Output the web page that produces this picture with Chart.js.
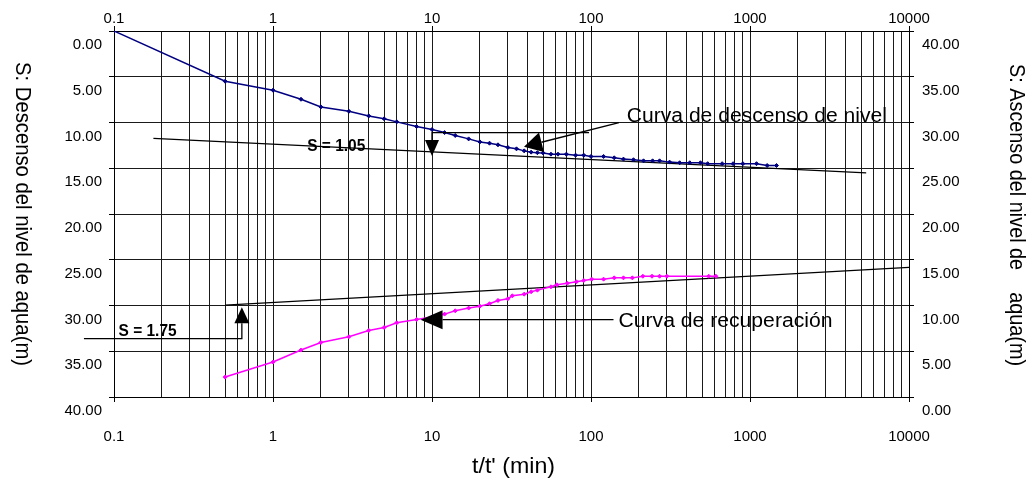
<!DOCTYPE html>
<html>
<head>
<meta charset="utf-8">
<script src="https://cdn.jsdelivr.net/npm/chart.js@4.4.1/dist/chart.umd.min.js"></script>
<style>
  html, body { margin: 0; padding: 0; background: #fff; }
  #wrap { width: 1034px; height: 485px; position: relative; }
</style>
</head>
<body>
<div id="wrap"><canvas id="chart"></canvas></div>
<script>
// drawdown curve, read on the left (reversed) axis
const descT = [0.1, 0.5, 1, 1.5, 2, 3, 4, 5, 6, 8,
  10, 12, 14, 17, 20, 23, 26, 30, 34, 38,
  42, 46, 50, 56, 62, 70, 80, 90, 100, 120,
  140, 160, 185, 214, 244, 270, 312, 361, 418, 488,
  542, 668, 783, 902, 1099, 1282, 1468];
const descS = [0, 5.49, 6.47, 7.46, 8.3, 8.77, 9.28, 9.6, 9.93, 10.44,
  10.77, 11.1, 11.42, 11.79, 12.12, 12.26, 12.44, 12.73, 12.88, 13.1,
  13.24, 13.3, 13.33, 13.46, 13.46, 13.46, 13.57, 13.57, 13.71, 13.71,
  13.86, 14.0, 14.07, 14.19, 14.19, 14.19, 14.33, 14.4, 14.4, 14.4,
  14.5, 14.5, 14.5, 14.5, 14.5, 14.7, 14.7];

// recovery curve, read on the right axis
const recT = [0.5, 1, 1.5, 2, 3, 4, 5, 6, 8, 10,
  12, 14, 17, 20, 23, 26, 30, 32, 38, 42,
  46, 56, 61, 71, 81, 90, 101, 120, 140, 160,
  182, 212, 242, 270, 300, 550, 610];
const recR = [2.18, 3.82, 5.13, 5.96, 6.58, 7.27, 7.6, 8.11, 8.47, 8.75,
  9.06, 9.42, 9.72, 9.93, 10.19, 10.55, 10.73, 11.06, 11.24, 11.5,
  11.68, 12.04, 12.26, 12.44, 12.59, 12.73, 12.88, 12.88, 13.02, 13.02,
  13.02, 13.2, 13.2, 13.2, 13.2, 13.2, 13.2];

// straight-line fits
const descFitT = [0.177, 5379];
const descFitS = [11.73, 15.5];
const recFitT = [0.5, 10000];
const recFitR = [10.05, 14.17];

// axis ticks
const xMajor = [0.1, 1, 10, 100, 1000, 10000];
const xLabels = ['0.1', '1', '10', '100', '1000', '10000'];
const yStep = 5;

const FONT = '"Liberation Sans", Arial, sans-serif';
const GRID = '#1a1a1a';

// every 1..9 line of each decade
const xGrid = [];
xMajor.slice(0, -1).forEach(d => {
  for (let m = 1; m <= 9; m++) xGrid.push(+(m * d).toPrecision(6));
});
xGrid.push(xMajor[xMajor.length - 1]);

const majorIndex = v => xMajor.findIndex(m => Math.abs(m - v) < m * 1e-6);
const toXY = (xs, ys) => xs.map((x, i) => ({ x, y: ys[i] }));

function xAxis(position, height, padding, onArea) {
  return {
    type: 'logarithmic',
    position,
    min: 0.1,
    max: 10000,
    afterBuildTicks: s => { s.ticks = xGrid.map(v => ({ value: v })); },
    afterFit: s => { s.height = height; },
    ticks: {
      autoSkip: false,
      maxRotation: 0,
      padding,
      color: '#000',
      font: { family: FONT, size: 15 },
      callback: v => { const i = majorIndex(v); return i >= 0 ? xLabels[i] : ''; }
    },
    grid: {
      drawOnChartArea: onArea,
      color: GRID,
      lineWidth: 1,
      tickLength: 5,
      tickColor: c => (c.tick && majorIndex(c.tick.value) >= 0) ? '#000' : 'rgba(0,0,0,0)'
    },
    border: { color: '#000', width: 1 }
  };
}

function yAxis(position, width, reverse, onArea, padding) {
  return {
    type: 'linear',
    position,
    reverse,
    min: 0,
    max: 40,
    afterFit: s => { s.width = width; },
    ticks: {
      stepSize: yStep,
      padding,
      labelOffset: 14,
      color: '#000',
      font: { family: FONT, size: 15 },
      callback: v => v.toFixed(2)
    },
    grid: { drawOnChartArea: onArea, color: GRID, lineWidth: 1, tickLength: 5, tickColor: '#000' },
    border: { color: '#000', width: 1 }
  };
}

// text squeezed or stretched to a given run length
function fitText(ctx, text, x, y, len, font, align, rot) {
  ctx.save();
  ctx.font = font;
  ctx.translate(x, y);
  if (rot) ctx.rotate(rot);
  const w = ctx.measureText(text).width;
  ctx.scale(len / w, 1);
  ctx.textAlign = align;
  ctx.textBaseline = 'middle';
  ctx.fillStyle = '#000';
  ctx.fillText(text, 0, 0);
  ctx.restore();
}

// polyline ending in a filled arrow head at the last point
function arrow(ctx, pts, headLen, headHalf) {
  const n = pts.length;
  const [tx, ty] = pts[n - 1];
  const [px, py] = pts[n - 2];
  const a = Math.atan2(ty - py, tx - px);
  const bx = tx - headLen * Math.cos(a), by = ty - headLen * Math.sin(a);
  ctx.save();
  ctx.strokeStyle = '#000';
  ctx.fillStyle = '#000';
  ctx.lineWidth = 1.3;
  ctx.beginPath();
  ctx.moveTo(pts[0][0], pts[0][1]);
  for (let i = 1; i < n - 1; i++) ctx.lineTo(pts[i][0], pts[i][1]);
  ctx.lineTo(bx, by);
  ctx.stroke();
  ctx.beginPath();
  ctx.moveTo(tx, ty);
  ctx.lineTo(bx + headHalf * Math.sin(a), by - headHalf * Math.cos(a));
  ctx.lineTo(bx - headHalf * Math.sin(a), by + headHalf * Math.cos(a));
  ctx.closePath();
  ctx.fill();
  ctx.restore();
}

const notes = {
  id: 'notes',
  afterDraw(chart) {
    const { ctx, chartArea: area, scales } = chart;
    const X = t => scales.x.getPixelForValue(t);
    const L = s => scales.yL.getPixelForValue(s);
    const R = r => scales.yR.getPixelForValue(r);
    const big = '20px ' + FONT;
    const bold = 'bold 16px ' + FONT;

    // drawdown callouts
    fitText(ctx, 'Curva de descenso de nivel', X(168), L(9.29), 260, big, 'left');
    arrow(ctx, [[X(150), L(10.02)], [X(37.9), L(12.64)]], 18, 10);
    fitText(ctx, 'S = 1.05', X(2.5), L(12.64), 58, bold, 'center');
    arrow(ctx, [[X(97.2), L(11.11)], [X(10), L(11.11)], [X(10), L(13.66)]], 16, 7);

    // recovery callouts
    fitText(ctx, 'Curva de recuperación', X(148.9), R(8.23), 214, big, 'left');
    arrow(ctx, [[X(138.5), R(8.45)], [X(8.47), R(8.45)]], 22, 9.5);
    fitText(ctx, 'S = 1.75', X(0.1626), L(32.86), 58, bold, 'center');
    arrow(ctx, [[X(0.0647), L(33.63)], [X(0.637), L(33.63)], [X(0.637), L(30.2)]], 16, 7.5);

    // axis titles
    const midY = (area.top + area.bottom) / 2;
    fitText(ctx, 'S: Descenso del nivel de aqua(m)', 22, midY, 304, '22px ' + FONT, 'center', Math.PI / 2);
    fitText(ctx, 'S: Ascenso del nivel de    aqua(m)', 1016, midY + 1, 302, '22px ' + FONT, 'center', Math.PI / 2);
    fitText(ctx, "t/t' (min)", (area.left + area.right) / 2 + 2, 467, 83, '22px ' + FONT, 'center');
  }
};

new Chart(document.getElementById('chart'), {
  type: 'line',
  data: {
    datasets: [
      {
        data: toXY(descT, descS),
        yAxisID: 'yL',
        borderColor: '#000080',
        backgroundColor: '#000080',
        borderWidth: 1.5,
        pointStyle: 'rectRot',
        pointRadius: 2,
        pointBorderWidth: 1,
        tension: 0
      },
      {
        data: toXY(descFitT, descFitS),
        yAxisID: 'yL',
        borderColor: '#000',
        borderWidth: 1.2,
        pointRadius: 0
      },
      {
        data: toXY(recT, recR),
        yAxisID: 'yR',
        borderColor: '#ff00ff',
        backgroundColor: '#ff00ff',
        borderWidth: 1.5,
        pointStyle: 'rectRot',
        pointRadius: 2,
        pointBorderWidth: 1,
        tension: 0
      },
      {
        data: toXY(recFitT, recFitR),
        yAxisID: 'yR',
        borderColor: '#000',
        borderWidth: 1.2,
        pointRadius: 0
      }
    ]
  },
  options: {
    responsive: true,
    maintainAspectRatio: false,
    animation: false,
    events: [],
    layout: { padding: 0 },
    plugins: { legend: { display: false }, tooltip: { enabled: false } },
    scales: {
      x: xAxis('bottom', 88, 26, true),
      xTop: xAxis('top', 31, -2, false),
      yL: yAxis('left', 114, true, true, 7),
      yR: yAxis('right', 125, false, false, 8)
    }
  },
  plugins: [notes]
});
</script>
</body>
</html>
